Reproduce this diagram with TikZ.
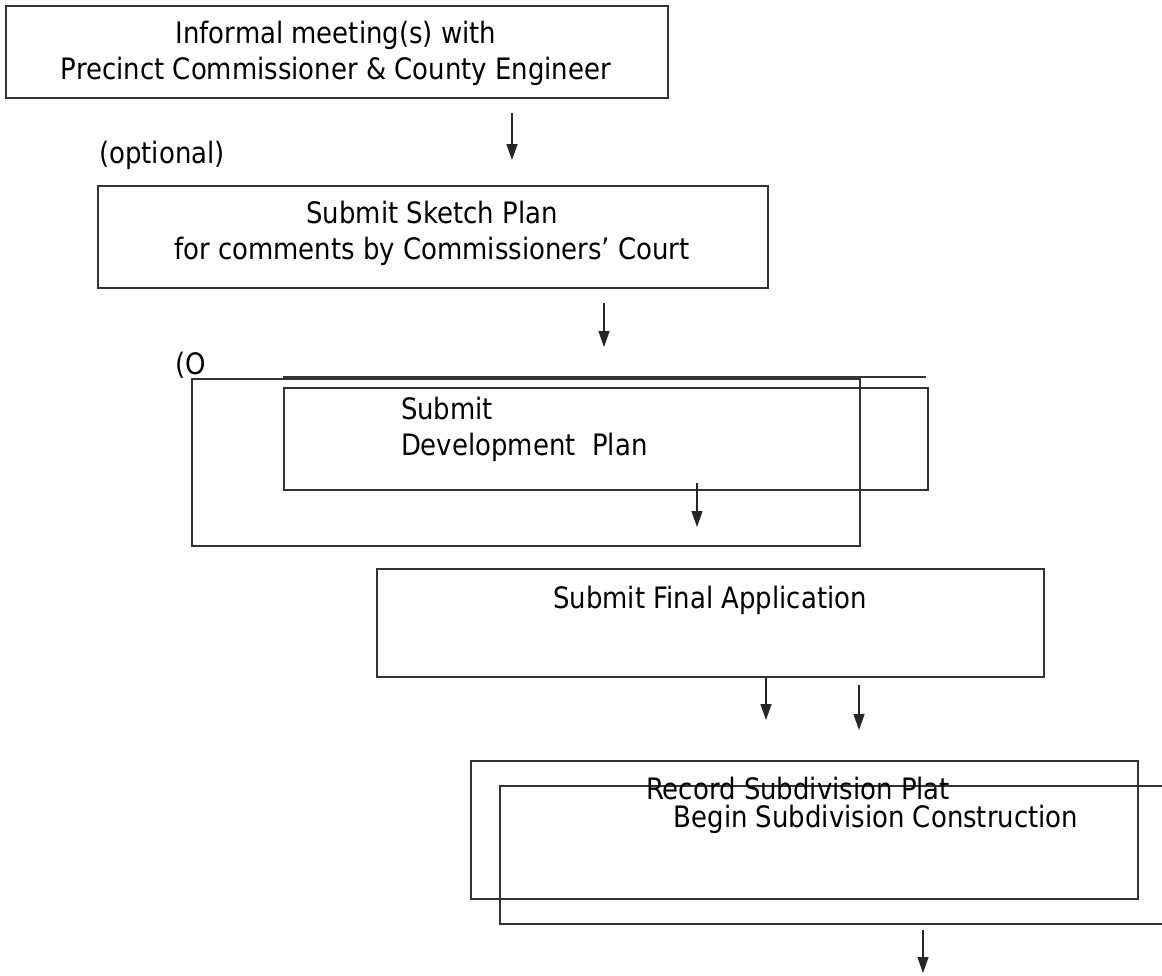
\documentclass[tikz,border=0pt]{standalone}
\usepackage{fontspec}
\setmainfont[FakeStretch=0.88]{DejaVu Sans}
\usetikzlibrary{arrows.meta}

\begin{document}
\begin{tikzpicture}[x=1pt,y=-1pt,line width=2pt,
  boxline/.style={draw=black!80,anchor=north west,inner sep=0pt},
  txt/.style={font=\fontsize{29.5}{36}\selectfont,text=black,inner sep=0pt},
  flow/.style={-{Triangle[length=16pt,width=11pt]},line width=1.4pt,draw=black!85}]
\useasboundingbox (0,0) rectangle (1162,975);
% frames
\node[boxline,minimum width=662pt,minimum height=92pt] (meet) at (5,5) {};
\node[boxline,minimum width=670pt,minimum height=102pt] (sketch) at (97,185) {};
\node[boxline,minimum width=668pt,minimum height=167pt] (devouter) at (191,378) {};
\node[boxline,minimum width=644pt,minimum height=102pt] (devinner) at (283,387) {};
\draw[black!80] (283,377) -- (926,377);
\node[boxline,minimum width=667pt,minimum height=108pt] (final) at (376,568) {};
\node[boxline,minimum width=667pt,minimum height=138pt] (record) at (470,760) {};
\node[boxline,minimum width=690pt,minimum height=138pt] (build) at (499,785) {};
% texts
\node[txt,align=center] (meettxt) at (336,53) {Informal meeting(s) with\\Precinct Commissioner \& County Engineer};
\node[txt] (opt) at (162,155) {(optional)};
\node[txt,align=center] (sketchtxt) at (432,233) {Submit Sketch Plan\\for comments by Commissioners’ Court};
\node[txt] (optcut) at (191,365) {(O};
\node[txt,align=left,anchor=west] (devtxt) at (400,429) {Submit\\Development\ \ Plan};
\node[txt] (finaltxt) at (710,600) {Submit Final Application};
\node[txt,anchor=base] (recordtxt) at (798,799) {Record Subdivision Plat};
\node[txt,anchor=base] (buildtxt) at (876,827) {Begin Subdivision Construction};
% arrows
\coordinate (a1s) at (512,113); \coordinate (a1e) at (512,160);
\coordinate (a2s) at (604,303); \coordinate (a2e) at (604,347);
\coordinate (a3s) at (697,483); \coordinate (a3e) at (697,527);
\coordinate (a4s) at (766,678); \coordinate (a4e) at (766,720);
\coordinate (a5s) at (859,685); \coordinate (a5e) at (859,730);
\coordinate (a6s) at (923,930); \coordinate (a6e) at (923,973);
\draw[flow] (a1s) -- (a1e);
\draw[flow] (a2s) -- (a2e);
\draw[flow] (a3s) -- (a3e);
\draw[flow] (a4s) -- (a4e);
\draw[flow] (a5s) -- (a5e);
\draw[flow] (a6s) -- (a6e);
\end{tikzpicture}
\end{document}
